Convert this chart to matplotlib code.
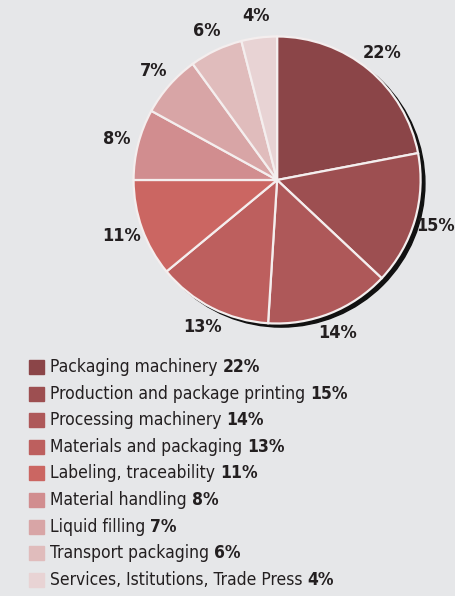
import matplotlib
matplotlib.use("Agg")
import matplotlib.pyplot as plt
from matplotlib.patches import Circle, Rectangle

# segment names, shares (percent) and colours, clockwise from 12 o'clock
names = ["Packaging machinery", "Production and package printing", "Processing machinery",
         "Materials and packaging", "Labeling, traceability", "Material handling",
         "Liquid filling", "Transport packaging", "Services, Istitutions, Trade Press"]
shares = [22, 15, 14, 13, 11, 8, 7, 6, 4]
colors = ["#8b4548", "#9d4f51", "#ae5859", "#bd5f5e", "#cb6662",
          "#d18d8f", "#d8a5a6", "#e0bcbc", "#e8d3d4"]

bg = "#e6e7e9"
ink = "#231f20"
plt.rcParams["font.family"] = ["DejaVu Sans"]
plt.rcParams["font.stretch"] = "condensed"

fig = plt.figure(figsize=(4.55, 5.96), dpi=100, facecolor=bg)
ax = fig.add_axes([0.2145, 0.397, 0.789, 0.602])
ax.set_facecolor(bg)
ax.set_xlim(-1.3, 1.3)
ax.set_ylim(-1.3, 1.3)
ax.set_aspect("equal")
ax.axis("off")

# dark drop shadow on the lower right
ax.add_patch(Circle((0.03, -0.025), 1.0, color="#111111", zorder=0))

labels = [f"{s}%" for s in shares]
wedges, texts = ax.pie(shares, colors=colors, startangle=90, counterclock=False,
                       labels=labels, labeldistance=1.15,
                       wedgeprops=dict(edgecolor="#f4eeee", linewidth=1.6),
                       textprops=dict(fontsize=13, fontweight="bold", color=ink))
for w in wedges:
    w.set_zorder(1)
for t in texts:
    t.set_ha("center")
    t.set_va("center")

# legend drawn by hand so the value can be bold
y0 = 1 - 367 / 596
dy = 26.6 / 596
for i, (n, s, c) in enumerate(zip(names, shares, colors)):
    y = y0 - i * dy
    fig.patches.append(Rectangle((29 / 455, y - 7 / 596), 15 / 455, 14 / 596,
                                 transform=fig.transFigure, color=c))
    t = fig.text(50 / 455, y, n + " ", fontsize=12.5, color=ink, va="center")
    ax.annotate(f"{s}%", xy=(1, 0.5), xycoords=t, va="center", ha="left",
                fontsize=12.5, fontweight="bold", color=ink, annotation_clip=False)

fig.savefig("out.png", dpi=100, facecolor=bg)
